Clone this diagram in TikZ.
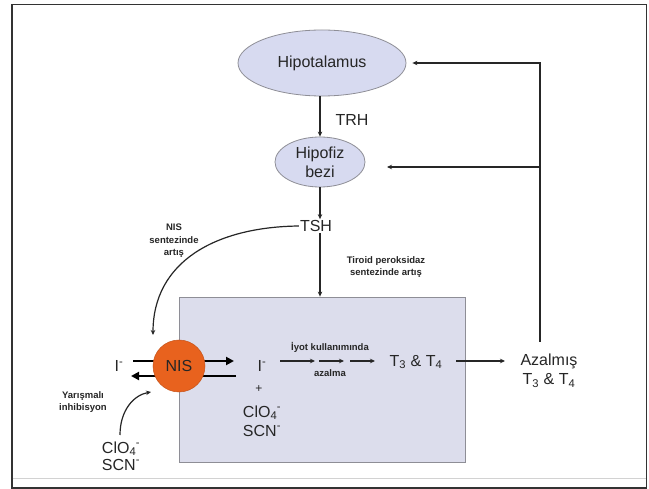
\documentclass[tikz,border=0pt]{standalone}
\usepackage{fontspec}
\setmainfont{Liberation Sans}
\usetikzlibrary{shapes.geometric,arrows.meta}
\definecolor{ellfill}{HTML}{D7DAF0}
\definecolor{boxfill}{HTML}{DCDDEC}
\definecolor{edgegray}{HTML}{8E8E96}
\definecolor{nisorange}{HTML}{E8621E}
\definecolor{ink}{HTML}{262626}
\newcommand{\ionm}[2]{#1\textsubscript{#2}\kern-0.5pt\textsuperscript{-}}
\begin{document}
\begin{tikzpicture}[x=1pt,y=-1pt,
  organ/.style={ellipse,draw=edgegray,fill=ellfill,line width=0.8pt,inner sep=0pt,text=ink,font=\fontsize{16}{19}\selectfont,align=center},
  big/.style={text=ink,font=\fontsize{16}{19}\selectfont,inner sep=1pt,align=center},
  small/.style={text=ink,font=\bfseries\fontsize{9.5}{12.5}\selectfont,align=center,inner sep=0pt},
  conn/.style={draw=ink,line width=1.2pt,-{Stealth[length=5pt,width=4.5pt]}},
  fatarrow/.style={draw=black,line width=2.8pt,-{Triangle[length=8pt,width=8pt]}}]
\useasboundingbox (0,0) rectangle (649,489);
\fill[white] (0,0) rectangle (649,489);
\draw[line width=1.5pt,draw=black!80] (12,4.5) rectangle (646.5,488);
\draw[gray!35,line width=1pt] (12.75,479) -- (645.75,479);

% organs
\node[organ,minimum width=168,minimum height=66] (hyp) at (322,63) {Hipotalamus};
\node[organ,minimum width=90,minimum height=50] (hpf) at (320,162) {Hipofiz\\bezi};
\node[big] (trh) at (352,120) {TRH};
\node[big] (tsh) at (316,226) {TSH};

% thyroid box
\node[draw=edgegray,fill=boxfill,line width=0.8pt,minimum width=286,minimum height=165,inner sep=0pt] (box) at (322,379.5) {};

\node[small] (tpx) at (386,267) {Tiroid peroksidaz\\sentezinde artış};
\node[small] (nst) at (174,241) {NIS\\sentezinde\\artış};

% transport
\coordinate (tl) at (133,361);
\coordinate (tr) at (234,361);
\coordinate (br) at (236,376);
\coordinate (bl) at (131,376);
\draw[fatarrow] (tl) -- (tr);
\draw[fatarrow] (br) -- (bl);
\node[circle,fill=nisorange,draw=nisorange!85!black,line width=0.5pt,minimum size=52,inner sep=0pt,text=ink,font=\fontsize{16}{19}\selectfont] (nis) at (179,366) {NIS};

\node[big] (iL) at (119,366) {I\textsuperscript{-}};
\node[big] (iR) at (262,366) {I\textsuperscript{-}};
\node[big,font=\fontsize{12}{14}\selectfont] (plus) at (259,389) {+};
\node[big,font=\fontsize{16}{19}\selectfont] (clo) at (262,421) {\ionm{ClO}{4}\\SCN\textsuperscript{-}};

% iodine use
\coordinate (a1) at (280,361);
\coordinate (a2) at (315,361);
\coordinate (a3) at (319,361);
\coordinate (a4) at (344,361);
\coordinate (a5) at (350,361);
\coordinate (a6) at (375,361);
\draw[conn] (a1) -- (a2);
\draw[conn] (a3) -- (a4);
\draw[conn] (a5) -- (a6);
\node[small] (iyot) at (330,347) {İyot kullanımında};
\node[small] (azl) at (330,373) {azalma};

\node[big] (t34) at (416,362) {T\textsubscript{3} \& T\textsubscript{4}};
\node[big] (azal) at (549,371) {Azalmış\\T\textsubscript{3} \& T\textsubscript{4}};

% left bottom
\node[small] (yar) at (83,402) {Yarışmalı\\inhibisyon};
\node[big,font=\fontsize{16}{17}\selectfont] (clo2) at (121,456) {\ionm{ClO}{4}\\SCN\textsuperscript{-}};

% connectors
\draw[conn] (hpf.north |- hyp.south) -- (hpf.north);
\draw[conn] (hpf.south) -- (hpf.south |- tsh.north);
\draw[conn] (hpf.south |- tsh.south) -- (hpf.south |- box.north);
\coordinate (nisin) at (153,335);
\draw[conn] (tsh.west) .. controls (215,227) and (153,262) .. (nisin);
\coordinate (inhstart) at (120,435);
\coordinate (nisin2) at (151,392);
\draw[conn] (inhstart) .. controls (120,410) and (134,395) .. (nisin2);
\draw[conn] (456,361) -- (505,361);
\coordinate (fb) at (540,342);
\coordinate (fbtop) at (540,63);
\coordinate (fbmid) at (540,167);
\coordinate (hpfin) at (387,167);
\draw[conn] (fb) -- (fbtop) -- ([xshift=6]hyp.east);
\draw[conn] (fbmid) -- (hpfin);
\end{tikzpicture}
\end{document}
